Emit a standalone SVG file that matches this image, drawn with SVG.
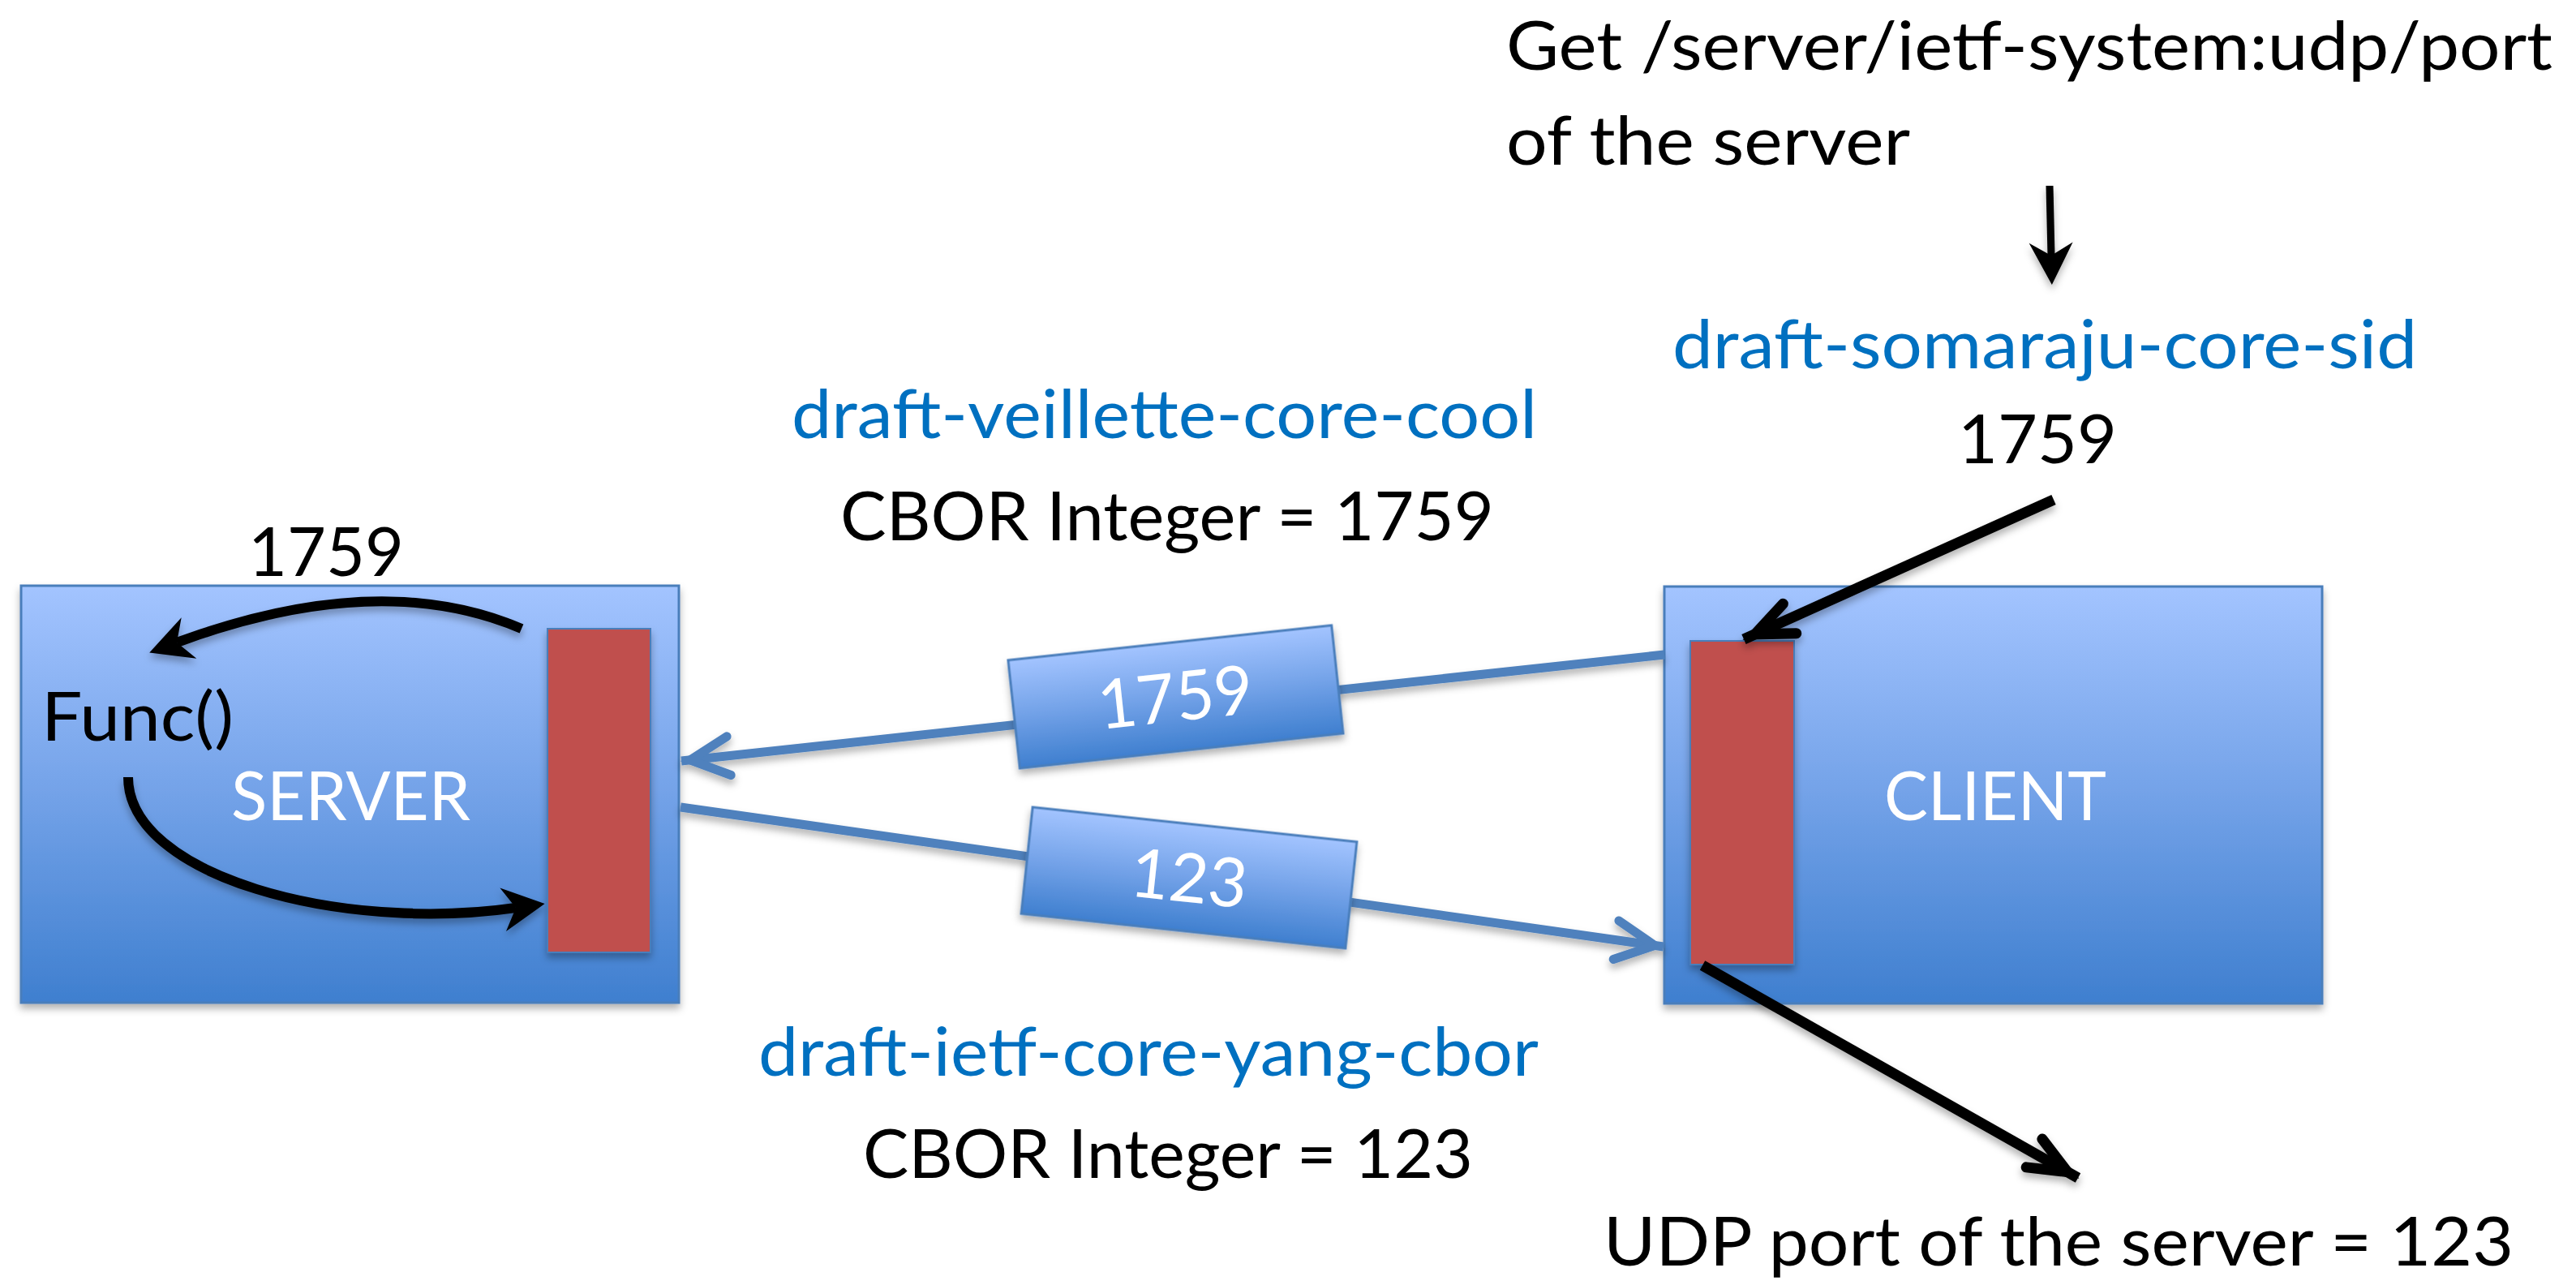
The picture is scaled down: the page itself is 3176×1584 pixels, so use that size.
<svg xmlns="http://www.w3.org/2000/svg" width="3176" height="1584" viewBox="0 0 3176 1584">
<style>
text{font-family:Lato,"Liberation Sans",sans-serif;font-size:84px}
.blk{fill:#000}
.blu{fill:#0070C0}
.wht{fill:#fff}
.box{fill:url(#grad);stroke:#4A7EBB;stroke-width:3}
.bar{fill:#C0504D;stroke:#4A7EBB;stroke-width:2}
.conn{fill:none;stroke:#4F81BD;stroke-width:11}
.arr{fill:none;stroke:#000;stroke-width:13}
.cur{fill:none;stroke:#000;stroke-width:12}
</style>
<defs>
<linearGradient id="grad" x1="0" y1="0" x2="0" y2="1">
<stop offset="0" stop-color="#A3C4FF"/>
<stop offset="0.5" stop-color="#73A2E8"/>
<stop offset="1" stop-color="#3F7FCF"/>
</linearGradient>
<filter id="sh" filterUnits="userSpaceOnUse" x="0" y="0" width="3176" height="1584">
<feDropShadow dx="0" dy="6" stdDeviation="5" flood-color="#000" flood-opacity="0.3"/>
</filter>
<filter id="shb" x="-20%" y="-20%" width="140%" height="150%">
<feDropShadow dx="0" dy="6" stdDeviation="5" flood-color="#000" flood-opacity="0.3"/>
</filter>
<marker id="openBlue" markerUnits="userSpaceOnUse" viewBox="-80 -40 100 80" markerWidth="100" markerHeight="80" refX="0" refY="0" orient="auto">
<path d="M-59,-24 L-11,0 L-59,24" fill="none" stroke="#4F81BD" stroke-width="11" stroke-linecap="round"/>
</marker>
<marker id="openBlack" markerUnits="userSpaceOnUse" viewBox="-80 -40 100 80" markerWidth="100" markerHeight="80" refX="0" refY="0" orient="auto">
<path d="M-62,-20 L-15,0 L-62,20" fill="none" stroke="#000" stroke-width="13" stroke-linecap="round"/>
</marker>
<marker id="stealth" markerUnits="userSpaceOnUse" viewBox="-30 -40 80 80" markerWidth="80" markerHeight="80" refX="0" refY="0" orient="auto">
<path d="M36,0 L-16,-27 L0,0 L-16,27 Z" fill="#000"/>
</marker>
</defs>

<g id="server">
<rect class="box" x="26" y="722" width="811" height="514" filter="url(#shb)"/>
<rect class="bar" x="675" y="775" width="127" height="399" filter="url(#shb)"/>
<text class="wht" x="285" y="1011" textLength="295" lengthAdjust="spacingAndGlyphs">SERVER</text>
<text class="blk" x="51" y="913" textLength="237" lengthAdjust="spacingAndGlyphs">Func()</text>
</g>

<g id="client">
<rect class="box" x="2052" y="723" width="811" height="514" filter="url(#shb)"/>
<rect class="bar" x="2084" y="790" width="128" height="399" filter="url(#shb)"/>
<text class="wht" x="2323" y="1011" textLength="274" lengthAdjust="spacingAndGlyphs">CLIENT</text>
</g>

<g id="connectors">
<path class="conn" d="M2052,807 L840,938" marker-end="url(#openBlue)" filter="url(#sh)"/>
<path class="conn" d="M839,995 L2051,1167" marker-end="url(#openBlue)" filter="url(#sh)"/>
<path class="cur" d="M643,775 Q468,700 218,792" marker-end="url(#stealth)" filter="url(#sh)"/>
<path class="cur" d="M158,958 C158,1080 420,1150 636,1119" marker-end="url(#stealth)" filter="url(#sh)"/>
<path class="arr" d="M2532,616 L2150,788" marker-end="url(#openBlack)" filter="url(#sh)"/>
<path class="arr" d="M2099,1190 L2562,1452" marker-end="url(#openBlack)" filter="url(#sh)"/>
<path fill="none" stroke="#000" stroke-width="9" d="M2527,229 L2529,315" marker-end="url(#stealth)" filter="url(#sh)"/>
</g>

<g id="label-1759" transform="translate(1449,859) rotate(-6.15)">
<rect class="box" x="-200" y="-67" width="401" height="134" filter="url(#shb)"/>
<text class="wht" x="0" y="30" text-anchor="middle" textLength="192" lengthAdjust="spacingAndGlyphs">1759</text>
</g>

<g id="label-123" transform="translate(1466,1082) rotate(6.1)">
<rect class="box" x="-201" y="-66" width="402" height="132" filter="url(#shb)"/>
<text class="wht" x="0" y="30" text-anchor="middle" textLength="144" lengthAdjust="spacingAndGlyphs">123</text>
</g>

<g id="texts">
<text class="blk" x="1857" y="86" textLength="1290" lengthAdjust="spacingAndGlyphs">Get /server/ietf-system:udp/port</text>
<text class="blk" x="1857" y="203" textLength="498" lengthAdjust="spacingAndGlyphs">of the server</text>
<text class="blu" x="2062" y="454" textLength="918" lengthAdjust="spacingAndGlyphs">draft-somaraju-core-sid</text>
<text class="blk" x="2414" y="571" textLength="196" lengthAdjust="spacingAndGlyphs">1759</text>
<text class="blu" x="976" y="540" textLength="919" lengthAdjust="spacingAndGlyphs">draft-veillette-core-cool</text>
<text class="blk" x="1036" y="666" textLength="806" lengthAdjust="spacingAndGlyphs">CBOR Integer = 1759</text>
<text class="blk" x="306" y="710" textLength="192" lengthAdjust="spacingAndGlyphs">1759</text>
<text class="blu" x="935" y="1326" textLength="962" lengthAdjust="spacingAndGlyphs">draft-ietf-core-yang-cbor</text>
<text class="blk" x="1064" y="1452" textLength="752" lengthAdjust="spacingAndGlyphs">CBOR Integer = 123</text>
<text class="blk" x="1977" y="1560" textLength="1122" lengthAdjust="spacingAndGlyphs">UDP port of the server = 123</text>
</g>
</svg>
